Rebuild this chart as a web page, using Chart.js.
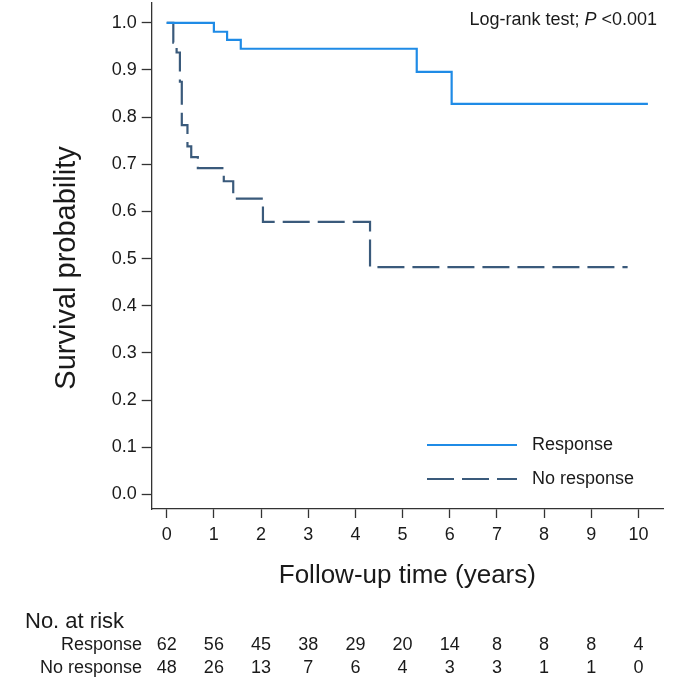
<!DOCTYPE html>
<html>
<head>
<meta charset="utf-8">
<script src="https://cdn.jsdelivr.net/npm/chart.js@4.4.1/dist/chart.umd.min.js"></script>
<style>
  html, body { margin: 0; padding: 0; background: #fff; }
</style>
</head>
<body>
<canvas id="km" width="685" height="685"></canvas>
<script>
// Kaplan-Meier steps (time in years, survival probability)
const responseTimes = [0, 1.0, 1.28, 1.57, 5.3, 6.04, 10.2];
const responseSurv  = [1.0, 0.981, 0.964, 0.945, 0.896, 0.828, 0.828];

const noResponseTimes = [0, 0.14, 0.21, 0.28, 0.32, 0.44, 0.52, 0.66, 1.21, 1.41, 2.04, 4.31, 9.77];
const noResponseSurv  = [1.0, 0.958, 0.937, 0.875, 0.783, 0.738, 0.715, 0.692, 0.664, 0.627, 0.578, 0.482, 0.482];

const xTicks = [0, 1, 2, 3, 4, 5, 6, 7, 8, 9, 10];
const yTicks = [0, 0.1, 0.2, 0.3, 0.4, 0.5, 0.6, 0.7, 0.8, 0.9, 1.0];

const groupNames = ['Response', 'No response'];
const atRiskResponse   = [62, 56, 45, 38, 29, 20, 14, 8, 8, 8, 4];
const atRiskNoResponse = [48, 26, 13, 7, 6, 4, 3, 3, 1, 1, 0];

const FONT = "'Liberation Sans', Arial, sans-serif";
const TEXT = '#1a1a1a';
const AXIS = '#333333';

function toPoints(xs, ys) {
  return xs.map((x, i) => ({ x: x, y: ys[i] }));
}

// titles, legend, log-rank note and the number-at-risk table
const overlay = {
  id: 'overlay',
  afterDraw(chart) {
    const ctx = chart.ctx;
    const xs = chart.scales.x;
    const area = chart.chartArea;
    ctx.save();
    ctx.fillStyle = TEXT;

    // axis titles
    ctx.textAlign = 'center';
    ctx.textBaseline = 'middle';
    ctx.font = '26px ' + FONT;
    ctx.fillText('Follow-up time (years)', (area.left + area.right) / 2, 576);
    ctx.save();
    ctx.font = '29px ' + FONT;
    ctx.translate(67, 268);
    ctx.rotate(-Math.PI / 2);
    ctx.fillText('Survival probability', 0, 0);
    ctx.restore();

    // log-rank note, right aligned, P in italics
    ctx.font = '18px ' + FONT;
    ctx.textAlign = 'left';
    const part1 = 'Log-rank test; ';
    const part3 = ' <0.001';
    const w1 = ctx.measureText(part1).width;
    const w3 = ctx.measureText(part3).width;
    ctx.font = 'italic 18px ' + FONT;
    const w2 = ctx.measureText('P').width;
    const x0 = 657 - (w1 + w2 + w3);
    ctx.font = '18px ' + FONT;
    ctx.fillText(part1, x0, 20);
    ctx.font = 'italic 18px ' + FONT;
    ctx.fillText('P', x0 + w1, 20);
    ctx.font = '18px ' + FONT;
    ctx.fillText(part3, x0 + w1 + w2, 20);

    // legend inside the plot
    const legendY = [445, 479];
    chart.data.datasets.forEach((ds, i) => {
      ctx.save();
      ctx.strokeStyle = ds.borderColor;
      ctx.lineWidth = ds.borderWidth;
      ctx.setLineDash(ds.borderDash || []);
      ctx.beginPath();
      ctx.moveTo(427, legendY[i]);
      ctx.lineTo(517, legendY[i]);
      ctx.stroke();
      ctx.restore();
      ctx.fillStyle = TEXT;
      ctx.font = '18px ' + FONT;
      ctx.textAlign = 'left';
      ctx.fillText(ds.label, 532, legendY[i]);
    });

    // number at risk
    ctx.font = '22px ' + FONT;
    ctx.textAlign = 'left';
    ctx.fillText('No. at risk', 25, 622);
    ctx.font = '18px ' + FONT;
    const rows = [atRiskResponse, atRiskNoResponse];
    const rowY = [645, 668];
    rows.forEach((vals, r) => {
      ctx.textAlign = 'right';
      ctx.fillText(groupNames[r], 142, rowY[r]);
      ctx.textAlign = 'center';
      vals.forEach((v, i) => {
        ctx.fillText(String(v), xs.getPixelForValue(xTicks[i]), rowY[r]);
      });
    });
    ctx.restore();
  }
};

new Chart(document.getElementById('km'), {
  type: 'line',
  data: {
    datasets: [
      {
        label: groupNames[0],
        data: toPoints(responseTimes, responseSurv),
        borderColor: '#1f8be6',
        borderWidth: 2.2,
        stepped: 'before',
        pointRadius: 0,
        fill: false
      },
      {
        label: groupNames[1],
        data: toPoints(noResponseTimes, noResponseSurv),
        borderColor: '#3a5a7b',
        borderWidth: 2.2,
        borderDash: [27, 8],
        stepped: 'before',
        pointRadius: 0,
        fill: false
      }
    ]
  },
  plugins: [overlay],
  options: {
    responsive: false,
    animation: false,
    layout: { padding: { left: 0, top: 3, right: 22, bottom: 0 } },
    plugins: {
      legend: { display: false },
      tooltip: { enabled: false }
    },
    scales: {
      x: {
        type: 'linear',
        min: -0.318,
        max: 10.52,
        afterBuildTicks: (scale) => { scale.ticks = xTicks.map(v => ({ value: v })); },
        afterFit: (scale) => {
          scale.height = 176;
          scale.paddingLeft = 0;
          scale.paddingRight = 0;
        },
        border: { display: true, color: AXIS, width: 1.3 },
        grid: { drawOnChartArea: false, drawTicks: true, tickLength: 9, tickColor: AXIS, tickWidth: 1.3 },
        ticks: {
          color: TEXT,
          padding: 6,
          maxRotation: 0,
          font: { family: FONT, size: 18 },
          callback: (v) => String(v)
        }
      },
      y: {
        type: 'linear',
        min: -0.031,
        max: 1.042,
        afterBuildTicks: (scale) => { scale.ticks = yTicks.map(v => ({ value: v })); },
        afterFit: (scale) => {
          scale.width = 151.7;
          scale.paddingTop = 0;
          scale.paddingBottom = 0;
        },
        border: { display: true, color: AXIS, width: 1.3 },
        grid: { drawOnChartArea: false, drawTicks: true, tickLength: 10, tickColor: AXIS, tickWidth: 1.3 },
        ticks: {
          color: TEXT,
          padding: 5,
          font: { family: FONT, size: 18 },
          callback: (v) => v.toFixed(1)
        }
      }
    }
  }
});
</script>
</body>
</html>
